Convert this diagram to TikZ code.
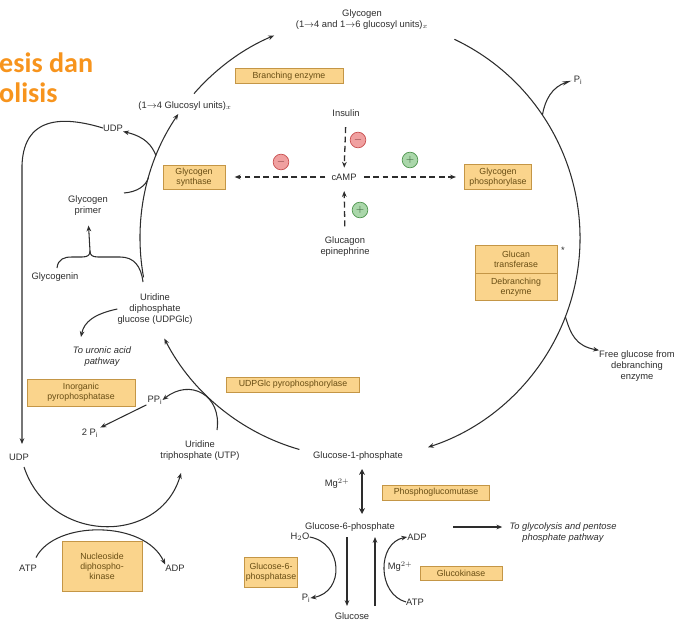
\documentclass[tikz,border=0pt]{standalone}
\usepackage{fontspec}
\setmainfont{Liberation Sans}
\newfontfamily\titlefont{Carlito}
\usetikzlibrary{arrows.meta}

\definecolor{enzfill}{RGB}{250,212,140}
\definecolor{enzdraw}{RGB}{196,150,70}
\definecolor{enztext}{RGB}{105,78,20}
\definecolor{titleorange}{RGB}{247,148,29}
\definecolor{inkgray}{RGB}{45,45,45}
\definecolor{minusfill}{RGB}{240,160,160}
\definecolor{minusdraw}{RGB}{200,80,80}
\definecolor{plusfill}{RGB}{170,215,170}
\definecolor{plusdraw}{RGB}{80,150,80}

\begin{document}
\begin{tikzpicture}[x=0.03cm,y=-0.03cm,
  lbl/.style={font=\fontsize{8}{9.5}\selectfont, text=inkgray, align=center, inner sep=0pt},
  ilbl/.style={lbl, font=\fontsize{8}{9.5}\selectfont\itshape},
  enz/.style={draw=enzdraw, fill=enzfill, line width=0.6pt, text=enztext,
    font=\fontsize{7.5}{8.5}\selectfont, align=center, inner sep=1pt},
  flow/.style={draw=inkgray, line width=0.9pt},
  tip/.style={-{Stealth[length=5pt,width=4pt]}},
  ctrl/.style={draw=inkgray, line width=1.1pt, dash pattern=on 5pt off 3pt,
    -{Stealth[length=5pt,width=4pt]}},
  sign/.style={circle, minimum size=0.47cm, inner sep=0pt, line width=0.6pt,
    font=\fontsize{9}{9}\selectfont},
  minus/.style={sign, draw=minusdraw, fill=minusfill, text=minusdraw!60!black},
  plus/.style={sign, draw=plusdraw, fill=plusfill, text=plusdraw!60!black},
  title/.style={font=\titlefont\bfseries\fontsize{24}{30}\selectfont,
    text=titleorange, inner sep=0pt, anchor=base west},
]
\useasboundingbox (0,0) rectangle (683,623);

% heading
\node[title] (title1) at (-1,73) {esis dan};
\node[title] (title2) at (-1,103) {olisis};

% centre of the glycogen cycle
\coordinate (C) at (360,238);
\path (C) ++(202:220) coordinate (jUDP);
\path (C) ++(196:220) coordinate (jPrim);
\path (C) ++(-34:220) coordinate (jPi);
\path (C) ++(21:220) coordinate (jFree);

% labels
\node[lbl] (glycogen) at (362,19.5) {Glycogen\\(1$\to$4 and 1$\to$6 glucosyl units)$_x$};
\node[lbl] (glucosyl) at (185,106) {(1$\to$4 Glucosyl units)$_x$};
\node[lbl] (pi1) at (578,80) {P$_\mathrm{i}$};
\node[lbl] (udpt) at (113,128) {UDP};
\node[lbl] (primer) at (88,206) {Glycogen\\primer};
\node[lbl] (glycogenin) at (55,277) {Glycogenin};
\node[lbl] (udpglc) at (155,309) {Uridine\\diphosphate\\glucose (UDPGlc)};
\node[ilbl] (uronic) at (102,357) {To uronic acid\\pathway};
\node[lbl] (ppi) at (155,400) {PP$_\mathrm{i}$};
\node[lbl] (twopi) at (90,433) {2 P$_\mathrm{i}$};
\node[lbl] (utp) at (200,451) {Uridine\\triphosphate (UTP)};
\node[lbl] (udpb) at (19,457) {UDP};
\node[lbl] (atp1) at (28,568) {ATP};
\node[lbl] (adp1) at (175,568) {ADP};
\node[lbl] (g1p) at (358,456) {Glucose-1-phosphate};
\node[lbl] (mg1) at (337,484) {Mg$^{2+}$};
\node[lbl] (g6p) at (350,527) {Glucose-6-phosphate};
\node[ilbl] (glycolysis) at (563,533) {To glycolysis and pentose\\phosphate pathway};
\node[lbl] (h2o) at (300,537) {H$_2$O};
\node[lbl] (pi2) at (306,598) {P$_\mathrm{i}$};
\node[lbl] (adp2) at (417,537) {ADP};
\node[lbl] (atp2) at (415,602) {ATP};
\node[lbl] (mg2) at (400,567) {Mg$^{2+}$};
\node[lbl] (glucose) at (352,616) {Glucose};
\node[lbl] (freeglc) at (637,366) {Free glucose from\\debranching\\enzyme};
\node[lbl] (insulin) at (346,113) {Insulin};
\node[lbl] (camp) at (344,177) {cAMP};
\node[lbl] (glucagon) at (345,247) {Glucagon\\epinephrine};
\node[lbl] (star) at (563,250) {*};

% enzymes
\node[enz, minimum width=3.24cm, minimum height=0.45cm] (branch) at (289,76) {Branching enzyme};
\node[enz, minimum width=1.86cm, minimum height=0.72cm] (synth) at (194,177) {Glycogen\\synthase};
\node[enz, minimum width=2.01cm, minimum height=0.75cm] (phos) at (498,177) {Glycogen\\phosphorylase};
\node[enz, minimum width=2.46cm, minimum height=0.84cm] (glucan) at (516,259) {Glucan\\transferase};
\node[enz, minimum width=2.46cm, minimum height=0.81cm, anchor=north] (debranch) at (glucan.south) {Debranching\\enzyme};
\node[enz, minimum width=3.24cm, minimum height=0.81cm] (inorg) at (81,392.5) {Inorganic\\pyrophosphatase};
\node[enz, minimum width=3.99cm, minimum height=0.45cm] (udpglcpp) at (293,384.5) {UDPGlc pyrophosphorylase};
\node[enz, minimum width=3.21cm, minimum height=0.45cm] (pgm) at (436,492.5) {Phosphoglucomutase};
\node[enz, minimum width=1.3cm, minimum height=0.9cm] (g6pase) at (271,572) {Glucose-6-\\phosphatase};
\node[enz, minimum width=2.46cm, minimum height=0.42cm] (gk) at (461,573) {Glucokinase};
\node[enz, minimum width=2.4cm, minimum height=1.5cm] (ndk) at (102,566) {Nucleoside\\diphospho-\\kinase};

% regulation
\node[minus] (m1) at (358,140) {$-$};
\node[minus] (m2) at (281,162) {$-$};
\node[plus] (p1) at (410,160) {$+$};
\node[plus] (p2) at (360,210) {$+$};
\draw[ctrl, shorten <=9pt, shorten >=5pt] (insulin.south) -- (camp.north);
\draw[ctrl, shorten <=9pt, shorten >=9pt] (glucagon.north) -- (camp.south);
\draw[ctrl, shorten <=5pt, shorten >=8pt] (camp.west) -- (synth.east);
\draw[ctrl, shorten <=6pt, shorten >=7pt] (camp.east) -- (phos.west);

% glycogen cycle
\draw[flow,tip] (C) ++(106:220) arc[start angle=106, end angle=152.8, radius=220];
\draw[flow,tip] (C) ++(169.7:220) arc[start angle=169.7, end angle=214.3, radius=220];
\draw[flow,tip] (C) ++(221:220) arc[start angle=221, end angle=247, radius=220];
\draw[flow,tip] (C) ++(-64.6:220) arc[start angle=-64.6, end angle=72, radius=220];

% side branches of the cycle
\draw[flow, -{Stealth[length=8pt,width=3.5pt]}, shorten >=2pt] (jPi) .. controls (545,100) and (552,87) .. (pi1.west);
\draw[flow,tip] (jFree) .. controls (571,335) and (576,346) .. (freeglc.north west);
\draw[flow,tip] (jUDP) .. controls (152,146) and (146,137) .. (udpt.south east);
\draw[flow] (124,193) .. controls (137,192) and (146,186) .. (jPrim);

% glycogenin brace
\coordinate (bt) at (90,251);
\draw[flow] (57,268) .. controls (58,259) and (64,257) .. (72,257) -- (82,257)
  .. controls (88,257) and (90,255) .. (bt);
\draw[flow] (bt) .. controls (90,255) and (92,257) .. (98,257) -- (120,257)
  .. controls (134,257) and (141,266) .. (143,282);
\draw[flow,tip, shorten >=8pt] (bt) -- (primer.south);

% uronic acid branch
\draw[flow,tip] (udpglc.west) .. controls (94,314) and (84,322) .. (81,337);

% UTP in, PPi out
\draw[flow,tip] (217,430) .. controls (222,395) and (190,378) .. (ppi.east);
\draw[flow,tip, shorten <=1pt, shorten >=2pt] (ppi.south west) -- (twopi.north east);

% UDP recycling
\coordinate (udpdown) at (22,444);
\draw[flow,tip] (udpt.west) .. controls (70,118) and (24,112) .. (22,165) -- (udpdown);
\draw[flow,tip] (24,467) .. controls (50,545) and (160,545) .. (181,473);
\draw[flow,tip] (atp1.north) ++(8,-7) .. controls (55,520) and (145,520) .. (adp1.north west);

% glucose-1-phosphate / glucose-6-phosphate / glucose
\draw[draw=inkgray, line width=1.8pt, {Stealth[length=5pt,width=5pt]}-{Stealth[length=5pt,width=5pt]}]
  (362,469) -- (362,514);
\coordinate (gdn1) at (347,537);
\coordinate (gdn2) at (347,606);
\coordinate (gup1) at (375,606);
\coordinate (gup2) at (375,537);
\coordinate (glyc) at (453,527);
\draw[flow,tip] (gdn1) -- (gdn2);
\draw[flow,tip] (gup1) -- (gup2);
\draw[flow,tip] (h2o.east) .. controls (343,543) and (345,592) .. (pi2.east);
\draw[flow,tip] (atp2.west) .. controls (377,594) and (377,543) .. (adp2.west);
\draw[flow,tip, shorten >=6pt] (glyc) -- (glyc -| glycolysis.west);
\end{tikzpicture}
\end{document}
